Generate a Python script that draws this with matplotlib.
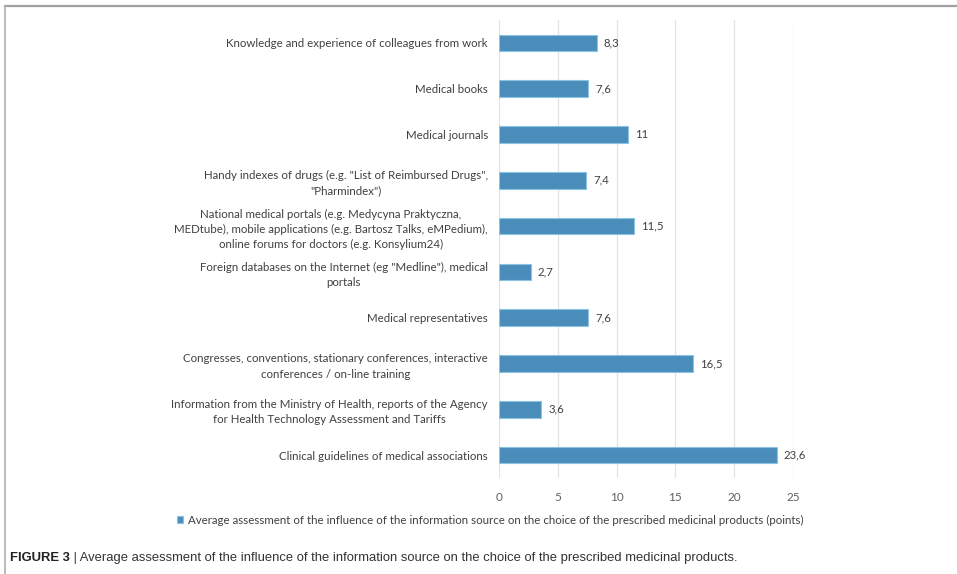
import matplotlib
matplotlib.use('Agg')
import matplotlib.pyplot as plt
from matplotlib.lines import Line2D

# data, top to bottom as in the figure
sources = [
    'Knowledge and experience of colleagues from work',
    'Medical books',
    'Medical journals',
    'Handy indexes of drugs (e.g. "List of Reimbursed Drugs",\n"Pharmindex")',
    'National medical portals (e.g. Medycyna Praktyczna,\nMEDtube), mobile applications (e.g. Bartosz Talks, eMPedium),\nonline forums for doctors (e.g. Konsylium24)',
    'Foreign databases on the Internet (eg "Medline"), medical\nportals',
    'Medical representatives',
    'Congresses, conventions, stationary conferences, interactive\nconferences / on-line training',
    'Information from the Ministry of Health, reports of the Agency\nfor Health Technology Assessment and Tariffs',
    'Clinical guidelines of medical associations',
]
scores = [8.3, 7.6, 11, 7.4, 11.5, 2.7, 7.6, 16.5, 3.6, 23.6]
series_name = ('Average assessment of the influence of the information source '
               'on the choice of the prescribed medicinal products (points)')
caption = ('Average assessment of the influence of the information source '
           'on the choice of the prescribed medicinal products.')

W, H = 957, 574
bar_color = '#4a8dbb'
text_color = '#404040'
chart_font = ['Lato', 'DejaVu Sans']

fig = plt.figure(figsize=(W / 100, H / 100), dpi=100)
ax = fig.add_axes([499 / W, 1 - 478 / H, (793 - 499) / W, (478 - 20) / H])

pos = list(range(len(sources)))
bars = ax.barh(pos, scores, height=0.36, color=bar_color,
               edgecolor='#8cc3e3', linewidth=0.8, label=series_name, zorder=2)

for p, v in zip(pos, scores):
    txt = f'{v:g}'.replace('.', ',')
    ax.text(v + 0.6, p, txt, va='center', ha='left', fontsize=8.2,
            color=text_color, family=chart_font)

ax.set_xlim(0, 25)
ax.set_ylim(len(sources) - 0.5, -0.5)
ax.set_xticks([0, 5, 10, 15, 20, 25])
ax.set_yticks(pos)
ax.set_yticklabels(sources, multialignment='center', fontsize=8.3,
                   color=text_color, family=chart_font, linespacing=1.45)
ax.tick_params(axis='y', length=0, pad=8)
ax.tick_params(axis='x', length=0, pad=10, labelsize=8.5, labelcolor='#606060')
for lbl in ax.get_xticklabels():
    lbl.set_family(chart_font)
ax.grid(axis='x', color='#e3e3e3', linewidth=0.9, zorder=0)
ax.set_axisbelow(True)
for s in ax.spines.values():
    s.set_visible(False)

leg = fig.legend(handles=[bars], loc='center', bbox_to_anchor=(490 / W, 1 - 520 / H),
                 frameon=False, handlelength=0.55, handleheight=0.55,
                 handletextpad=0.4, prop={'family': chart_font, 'size': 8.3})
for t in leg.get_texts():
    t.set_color(text_color)

# frame lines around the chart image
fig.add_artist(Line2D([5 / W, 1], [1 - 6 / H, 1 - 6 / H], color='#a0a0a0', lw=1.6))
fig.add_artist(Line2D([5 / W, 5 / W], [1 - 6 / H, 0], color='#b0b0b0', lw=1.2))

cap_font = ['Liberation Sans Narrow', 'Liberation Sans', 'DejaVu Sans']
t1 = fig.text(10 / W, 1 - 558 / H, 'FIGURE 3', fontsize=9.4, fontweight='bold',
              family=cap_font, va='center', ha='left', color='#222222')
ax.annotate(' | ' + caption, xy=(1, 0), xycoords=t1, va='bottom', ha='left',
            fontsize=9.4, family=cap_font, color='#333333')

fig.savefig('out.png', dpi=100)
